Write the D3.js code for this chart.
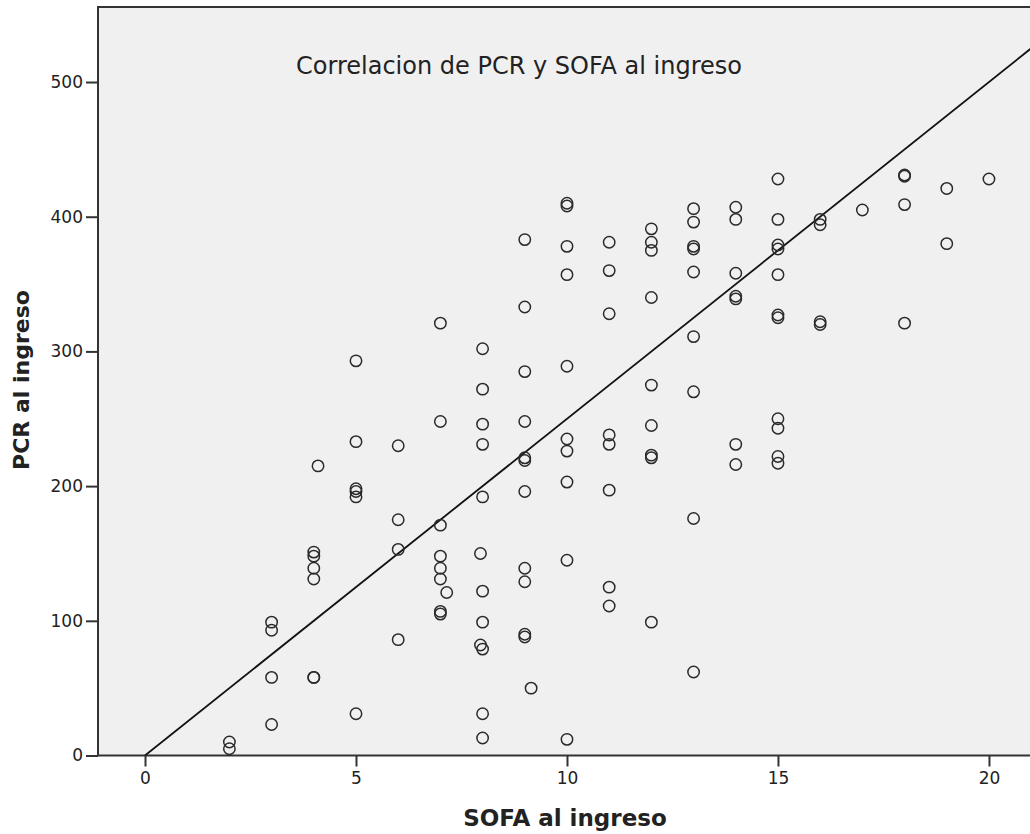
<!DOCTYPE html>
<html>
<head>
<meta charset="utf-8">
<script src="https://cdn.jsdelivr.net/npm/d3@7"></script>
<style>
  body { margin: 0; background: #fff; }
  svg text { font-family: "DejaVu Sans", sans-serif; fill: #222; }
</style>
</head>
<body>
<svg id="chart" width="1030" height="834"></svg>
<script>
// SOFA score (x) and PCR (y) per patient
const sofa = [
  2, 2,
  3, 3, 3, 3,
  4, 4, 4, 4, 4, 4, 4.1,
  5, 5, 5, 5, 5, 5,
  6, 6, 6, 6,
  7, 7, 7, 7, 7, 7, 7, 7, 7.15,
  8, 8, 8, 8, 8, 8, 8, 7.95, 8, 8, 7.95, 8,
  9, 9, 9, 9, 9, 9, 9, 9, 9, 9, 9, 9.15,
  10, 10, 10, 10, 10, 10, 10, 10, 10, 10,
  11, 11, 11, 11, 11, 11, 11, 11,
  12, 12, 12, 12, 12, 12, 12, 12, 12,
  13, 13, 13, 13, 13, 13, 13, 13, 13,
  14, 14, 14, 14, 14, 14, 14,
  15, 15, 15, 15, 15, 15, 15, 15, 15, 15, 15,
  16, 16, 16, 16,
  17,
  18, 18, 18, 18,
  19, 19,
  20
];
const pcr = [
  10, 5,
  99, 93, 58, 23,
  151, 148, 139, 131, 58, 58, 215,
  293, 233, 198, 196, 192, 31,
  230, 175, 153, 86,
  321, 248, 171, 148, 139, 131, 107, 105, 121,
  302, 272, 246, 231, 192, 122, 99, 82, 79, 31, 150, 13,
  383, 333, 285, 248, 221, 219, 196, 139, 129, 90, 88, 50,
  410, 408, 378, 357, 289, 235, 226, 203, 145, 12,
  381, 360, 328, 238, 231, 197, 125, 111,
  391, 381, 375, 340, 275, 245, 223, 221, 99,
  406, 396, 378, 376, 359, 311, 270, 176, 62,
  407, 398, 358, 341, 339, 231, 216,
  428, 398, 379, 376, 357, 327, 325, 250, 243, 222, 217,
  398, 394, 322, 320,
  405,
  431, 430, 409, 321,
  421, 380,
  428
];
const xTicks = [0, 5, 10, 15, 20];
const yTicks = [0, 100, 200, 300, 400, 500];
const fitSlope = 25;
const fitIntercept = 0;

const svg = d3.select('#chart');

// plot frame
const plotLeft = 98, plotTop = 7, plotRight = 1032, plotBottom = 755.5;

const x = d3.scaleLinear().domain([-1.114, 21.02]).range([plotLeft, plotRight]);
const y = d3.scaleLinear().domain([0, 555.7]).range([plotBottom, plotTop]);

svg.append('rect')
  .attr('x', plotLeft).attr('y', plotTop)
  .attr('width', plotRight - plotLeft).attr('height', plotBottom - plotTop)
  .attr('fill', '#f0f0f0')
  .attr('stroke', '#333').attr('stroke-width', 2);

// Y axis
const yAxis = svg.append('g')
  .attr('transform', `translate(${plotLeft},0)`)
  .call(d3.axisLeft(y).tickValues(yTicks).tickSize(12).tickPadding(3).tickFormat(d3.format('d')));
yAxis.select('.domain').remove();
yAxis.selectAll('line').attr('stroke', '#333').attr('stroke-width', 2);
yAxis.selectAll('text').attr('font-size', 17).attr('fill', '#222');

// X axis
const xAxis = svg.append('g')
  .attr('transform', `translate(0,${plotBottom})`)
  .call(d3.axisBottom(x).tickValues(xTicks).tickSize(11).tickPadding(5).tickFormat(d3.format('d')));
xAxis.select('.domain').remove();
xAxis.selectAll('line').attr('stroke', '#333').attr('stroke-width', 2);
xAxis.selectAll('text').attr('font-size', 17).attr('fill', '#222');

svg.append('clipPath').attr('id', 'plot-clip')
  .append('rect')
  .attr('x', plotLeft).attr('y', plotTop)
  .attr('width', plotRight - plotLeft).attr('height', plotBottom - plotTop);

// regression line from x = 0 to right edge
const xEnd = x.domain()[1];
svg.append('line')
  .attr('clip-path', 'url(#plot-clip)')
  .attr('x1', x(0)).attr('y1', y(fitIntercept))
  .attr('x2', x(xEnd)).attr('y2', y(fitIntercept + fitSlope * xEnd))
  .attr('stroke', '#111').attr('stroke-width', 1.8);

// points
svg.append('g')
  .selectAll('circle')
  .data(d3.range(sofa.length))
  .enter()
  .append('circle')
  .attr('cx', i => x(sofa[i]))
  .attr('cy', i => y(pcr[i]))
  .attr('r', 5.7)
  .attr('fill', 'none')
  .attr('stroke', '#2a2a2a')
  .attr('stroke-width', 1.5);

// titles
svg.append('text')
  .attr('x', 519).attr('y', 74)
  .attr('text-anchor', 'middle')
  .attr('font-size', 24)
  .text('Correlacion de PCR y SOFA al ingreso');

svg.append('text')
  .attr('x', 565).attr('y', 826)
  .attr('text-anchor', 'middle')
  .attr('font-size', 23).attr('font-weight', 'bold')
  .text('SOFA al ingreso');

svg.append('text')
  .attr('transform', 'translate(29,380) rotate(-90)')
  .attr('text-anchor', 'middle')
  .attr('font-size', 22).attr('font-weight', 'bold')
  .text('PCR al ingreso');
</script>
</body>
</html>
